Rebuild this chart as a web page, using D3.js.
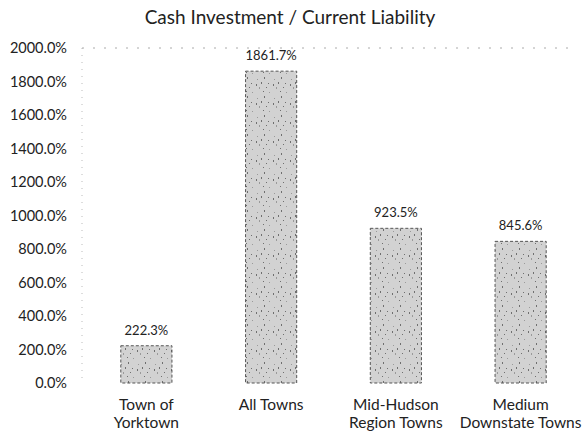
<!DOCTYPE html>
<html>
<head>
<meta charset="utf-8">
<script src="https://cdn.jsdelivr.net/npm/d3@7"></script>
<style>
  body { margin: 0; background: #fff; }
  text { font-family: Lato, "Open Sans", sans-serif; fill: #222; }
</style>
</head>
<body>
<svg width="583" height="435"></svg>
<script>
// Chart data
const categories = [["Town of", "Yorktown"], ["All Towns"], ["Mid-Hudson", "Region Towns"], ["Medium", "Downstate Towns"]];
const values = [222.3, 1861.7, 923.5, 845.6];
const yTicks = [0, 200, 400, 600, 800, 1000, 1200, 1400, 1600, 1800, 2000];

const svg = d3.select("svg");
const margin = { top: 48, right: 0, bottom: 52, left: 84 };
const width = 583, height = 435;

const x = d3.scaleBand()
  .domain(d3.range(values.length))
  .range([margin.left, width - margin.right])
  .paddingInner(0.59)
  .paddingOuter(0.295);

const y = d3.scaleLinear()
  .domain([0, 2000])
  .range([height - margin.bottom, margin.top]);

// speckled fill to mimic the scanned bars
const defs = svg.append("defs");
const pat = defs.append("pattern")
  .attr("id", "speckle")
  .attr("patternUnits", "userSpaceOnUse")
  .attr("width", 17).attr("height", 19);
pat.append("rect").attr("width", 17).attr("height", 19).attr("fill", "#d2d2d2");
[[2, 3], [9, 1], [13, 7], [4, 11], [8, 15], [1, 8], [14, 16], [6, 6], [11, 11]].forEach(([px, py], i) => {
  pat.append("rect").attr("x", px).attr("y", py)
    .attr("width", 1).attr("height", i % 2 ? 2 : 1)
    .attr("fill", i % 3 ? "#6f6f6f" : "#9a9a9a");
});

// title
svg.append("text")
  .attr("x", 290).attr("y", 24)
  .attr("text-anchor", "middle")
  .attr("font-size", 19)
  .text("Cash Investment / Current Liability");

// faint dotted axis line and top gridline
svg.append("line")
  .attr("x1", margin.left - 2).attr("x2", margin.left - 2)
  .attr("y1", y(2000)).attr("y2", y(0))
  .attr("stroke", "#bbb").attr("stroke-dasharray", "1,6");
svg.append("line")
  .attr("x1", margin.left - 2).attr("x2", width - 10)
  .attr("y1", y(2000)).attr("y2", y(2000))
  .attr("stroke", "#aaa").attr("stroke-dasharray", "2,9");

// y tick labels
const yAxis = svg.append("g")
  .attr("transform", `translate(${margin.left},0)`)
  .call(d3.axisLeft(y).tickValues(yTicks).tickSize(0).tickPadding(17)
    .tickFormat(d => d3.format(".1f")(d) + "%"));
yAxis.select(".domain").remove();
yAxis.selectAll("text").attr("font-size", 14.5).attr("fill", "#222")
  .attr("font-family", "Lato, 'Open Sans', sans-serif");

// bars
svg.selectAll("rect.bar")
  .data(values)
  .join("rect")
  .attr("class", "bar")
  .attr("x", (d, i) => x(i))
  .attr("y", d => y(d))
  .attr("width", x.bandwidth())
  .attr("height", d => y(0) - y(d))
  .attr("fill", "url(#speckle)")
  .attr("stroke", "#555")
  .attr("stroke-width", 1)
  .attr("stroke-dasharray", "3,2");

// value labels
svg.selectAll("text.val")
  .data(values)
  .join("text")
  .attr("class", "val")
  .attr("x", (d, i) => x(i) + x.bandwidth() / 2)
  .attr("y", d => y(d) - 11)
  .attr("text-anchor", "middle")
  .attr("font-size", 13)
  .text(d => d3.format(".1f")(d) + "%");

// category labels
const cat = svg.selectAll("text.cat")
  .data(categories)
  .join("text")
  .attr("class", "cat")
  .attr("text-anchor", "middle")
  .attr("font-size", 15.5)
  .attr("y", y(0) + 27);
cat.selectAll("tspan")
  .data((d, i) => d.map(t => ({ t, i })))
  .join("tspan")
  .attr("x", d => x(d.i) + x.bandwidth() / 2)
  .attr("dy", (d, j) => j === 0 ? 0 : 18)
  .text(d => d.t);
</script>
</body>
</html>
